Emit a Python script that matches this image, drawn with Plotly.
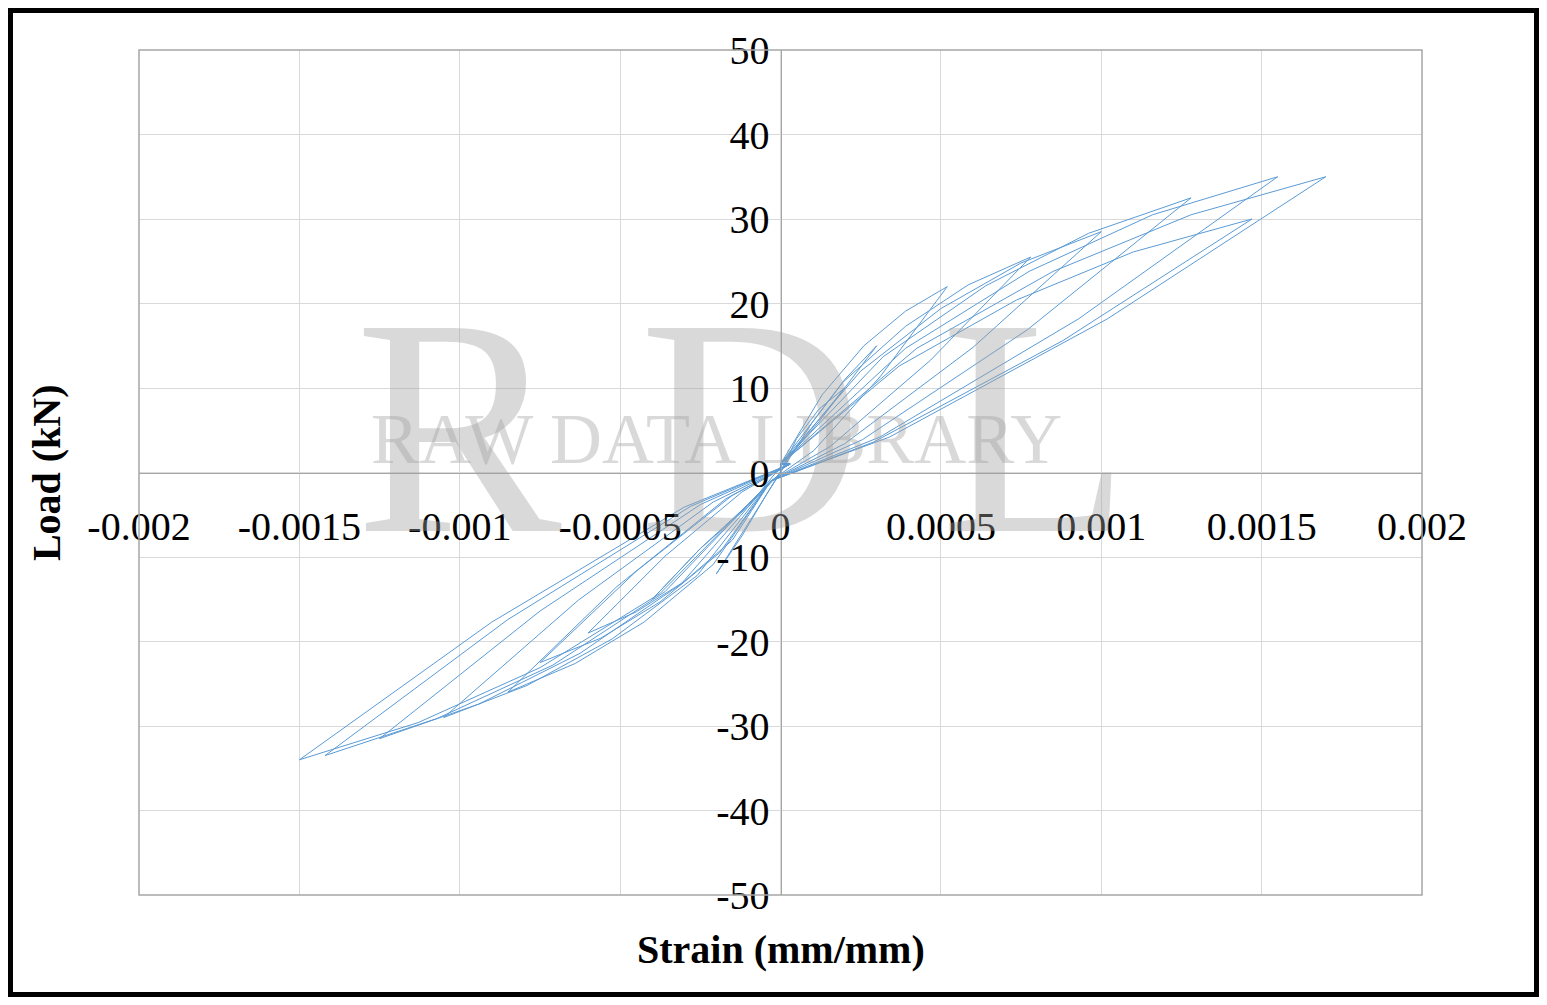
import plotly.graph_objects as go

# Cycle data (strain mm/mm, load kN)
c1x = [0, 0.00005, 0.00012, 0.0002, 0.00012, 0.00003, -0.00005, -0.00012, -0.0002, -0.0001, 0]
c1y = [0, 4, 7.5, 10, 6, 2, -3, -7.5, -12, -6, 0]
c2x = [0, 0.0001, 0.0002, 0.0003, 0.0002, 0.00005, -0.0001, -0.00025, -0.0004, -0.00025, -0.00005, 0]
c2y = [0, 6, 11, 15, 10, 3, -4, -9, -15, -9, -2, 0]
c3x = [0, 0.00013, 0.00026, 0.00039, 0.00052, 0.000312, 0.000104, -0.00003, -0.00015, -0.0003, -0.00045, -0.0006, -0.00036, -0.00012, 0.00003]
c3y = [1, 9.2, 15, 19.1, 22, 11.4, 2.6, -1, -8, -12.9, -16.5, -19, -9.9, -2.3, 1]
c4x = [0, 0.000195, 0.00039, 0.000585, 0.00078, 0.000468, 0.000156, -0.00003, -0.00019, -0.000375, -0.00056, -0.00075, -0.00045, -0.00015, 0.00003]
c4y = [1, 10.7, 17.3, 22.2, 25.5, 13.3, 3.1, -1, -9.5, -15.3, -19.6, -22.5, -11.7, -2.7, 1]
c5x = [0, 0.00025, 0.0005, 0.00075, 0.001, 0.0006, 0.0002, -0.00003, -0.00021, -0.000425, -0.00064, -0.00085, -0.00051, -0.00017, 0.00003]
c5y = [1, 12, 19.4, 24.8, 28.5, 14.8, 3.4, -1, -10.9, -17.7, -22.6, -26, -13.5, -3.1, 1]
c6x = [0, 0.00032, 0.00064, 0.00096, 0.00128, 0.00077, 0.000256, -0.00003, -0.00026, -0.000525, -0.00079, -0.00105, -0.00063, -0.00021, 0.00003]
c6y = [1, 13.7, 22.1, 28.3, 32.5, 16.9, 3.9, -1, -12.2, -19.7, -25.2, -29, -15.1, -3.5, 1]
c7x = [0, 0.00037, 0.000735, 0.0011, 0.00147, 0.00088, 0.00029, -0.00003, -0.00031, -0.000625, -0.00094, -0.00125, -0.00075, -0.00025, 0.00003]
c7y = [1, 12.6, 20.4, 26.1, 30, 15.6, 3.6, -1, -13.2, -21.4, -27.4, -31.5, -16.4, -3.8, 1]
c8x = [0, 0.00039, 0.000775, 0.00116, 0.00155, 0.00093, 0.00031, -0.00003, -0.00036, -0.00071, -0.00107, -0.00142, -0.00085, -0.00028, 0.00003]
c8y = [1, 14.7, 23.8, 30.5, 35, 18.2, 4.2, -1, -14.1, -22.8, -29.1, -33.5, -17.4, -4, 1]
c9x = [0, 0.000425, 0.00085, 0.00128, 0.0017, 0.00102, 0.00034, -0.00003, -0.000375, -0.00075, -0.00113, -0.0015, -0.0009, -0.0003, 0.00003]
c9y = [1, 14.7, 23.8, 30.5, 35, 18.2, 4.2, -1, -14.3, -23.1, -29.6, -34, -17.7, -4.1, 1]

x_ticks = [-0.002, -0.0015, -0.001, -0.0005, 0, 0.0005, 0.001, 0.0015, 0.002]
x_labels = ["-0.002", "-0.0015", "-0.001", "-0.0005", "0", "0.0005", "0.001", "0.0015", "0.002"]
y_ticks = [-50, -40, -30, -20, -10, 0, 10, 20, 30, 40, 50]
y_labels = ["-50", "-40", "-30", "-20", "-10", "0", "10", "20", "30", "40", "50"]

xs, ys = [], []
for cx, cy in [(c1x, c1y), (c2x, c2y), (c3x, c3y), (c4x, c4y), (c5x, c5y),
               (c6x, c6y), (c7x, c7y), (c8x, c8y), (c9x, c9y)]:
    xs += cx
    ys += cy

FONT = "Liberation Serif"
W, H = 1531, 989
L, R, T, B = 131, 117, 42, 102
pw, ph = W - L - R, H - T - B

fig = go.Figure(go.Scatter(x=xs, y=ys, mode="lines",
                           line=dict(color="#5B9BD5", width=1), showlegend=False))

fig.update_layout(
    width=W, height=H, paper_bgcolor="white", plot_bgcolor="white",
    margin=dict(l=L, r=R, t=T, b=B),
    font=dict(family=FONT, size=40, color="black"),
    xaxis=dict(range=[-0.002, 0.002], tickvals=x_ticks, ticktext=x_labels,
               showgrid=True, gridcolor="#D9D9D9", zeroline=False,
               anchor="free", position=0.5, showline=True, linecolor="#A6A6A6",
               ticks="", ticklabelstandoff=18, tickfont=dict(family=FONT, size=40)),
    yaxis=dict(range=[-50, 50], tickvals=y_ticks, ticktext=y_labels,
               showgrid=True, gridcolor="#D9D9D9", zeroline=False,
               anchor="free", position=0.5, showline=True, linecolor="#A6A6A6",
               ticks="", ticklabelstandoff=3, tickfont=dict(family=FONT, size=40)),
    shapes=[
        dict(type="rect", xref="paper", yref="paper", x0=0, x1=1, y0=0, y1=1,
             line=dict(color="#A6A6A6", width=1.5)),
        dict(type="rect", xref="paper", yref="paper", x0=(-L + 2) / pw, x1=(W - L - 2) / pw,
             y0=(-B + 2) / ph, y1=(H - B - 2) / ph, line=dict(color="black", width=6)),
    ],
    annotations=[
        dict(text="<b>Strain (mm/mm)</b>", xref="paper", yref="paper", x=0.5, y=-0.065,
             showarrow=False, font=dict(family=FONT, size=40), yanchor="middle"),
        dict(text="<b>Load (kN)</b>", xref="paper", yref="paper", x=-0.072, y=0.5,
             showarrow=False, textangle=-90, font=dict(family=FONT, size=40), xanchor="center"),
        dict(text="R D L", xref="paper", yref="paper", x=0.47, y=0.555, showarrow=False,
             font=dict(family=FONT, size=310, color="rgba(160,160,160,0.4)")),
        dict(text="RAW DATA LIBRARY", xref="paper", yref="paper", x=0.45, y=0.54, showarrow=False,
             font=dict(family=FONT, size=72, color="rgba(160,160,160,0.4)")),
    ],
)
fig.write_html("out.html")
